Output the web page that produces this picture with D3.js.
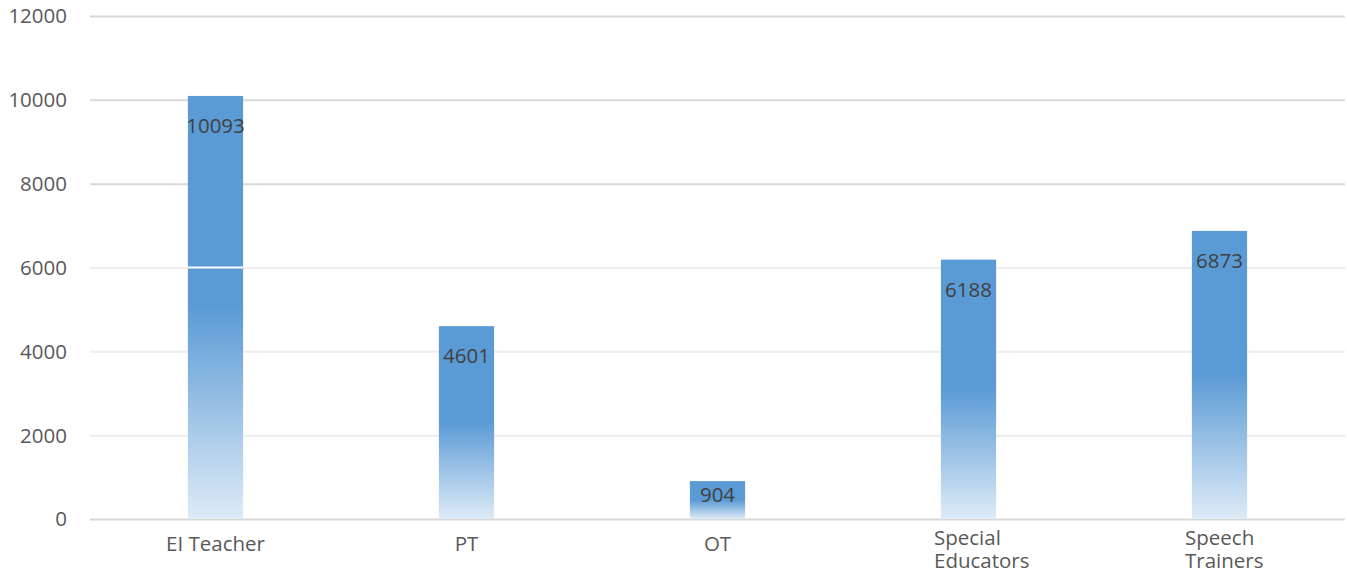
<!DOCTYPE html>
<html>
<head>
<meta charset="utf-8">
<script src="https://cdn.jsdelivr.net/npm/d3@7"></script>
<style>
  html, body { margin: 0; padding: 0; background: #ffffff; }
  svg { display: block; }
  text { font-family: "Open Sans", "Noto Sans", sans-serif; }
</style>
</head>
<body>
<svg id="chart" width="1347" height="577"></svg>
<script>
const categories = [["EI Teacher"], ["PT"], ["OT"], ["Special", "Educators"], ["Speech", "Trainers"]];
const values = [10093, 4601, 904, 6188, 6873];
const yTicks = [0, 2000, 4000, 6000, 8000, 10000, 12000];

const W = 1347, H = 577;
const margin = { left: 90, right: 2, top: 16, bottom: 58 };
const FS = "20.5px";
const svg = d3.select("#chart");

const keys = categories.map(c => c.join(" "));
const x = d3.scaleBand().domain(keys).range([margin.left, W - margin.right])
  .paddingInner(0.78).paddingOuter(0.39);
const y = d3.scaleLinear().domain([0, 12000]).range([H - margin.bottom, margin.top]);

const defs = svg.append("defs");
const grad = defs.append("linearGradient").attr("id", "barGrad")
  .attr("x1", 0).attr("y1", 0).attr("x2", 0).attr("y2", 1);
grad.append("stop").attr("offset", "0%").attr("stop-color", "#5b9bd5");
grad.append("stop").attr("offset", "50%").attr("stop-color", "#5b9bd5");
grad.append("stop").attr("offset", "75%").attr("stop-color", "#9dc3e6");
grad.append("stop").attr("offset", "100%").attr("stop-color", "#deebf7");

// gridlines
const gridG = svg.append("g").attr("transform", `translate(${margin.left},0)`)
  .call(d3.axisLeft(y).tickValues(yTicks).tickSize(-(W - margin.left - margin.right)).tickFormat(""));
gridG.select(".domain").remove();
gridG.selectAll(".tick line")
  .attr("stroke", d => (d === 0 || d >= 8000) ? "#d9d9d9" : "#ededed")
  .attr("stroke-width", 2);

// y labels
const yLab = svg.append("g").attr("transform", `translate(67,0)`)
  .call(d3.axisLeft(y).tickValues(yTicks).tickSize(0).tickPadding(0).tickFormat(d3.format("d")));
yLab.select(".domain").remove();
yLab.selectAll("text").attr("fill", "#595959").attr("font-size", FS)
  .attr("font-family", "'Open Sans', sans-serif").attr("dy", "0.34em");

// bars
svg.append("g").selectAll("rect").data(values).join("rect")
  .attr("x", (d, i) => x(keys[i]))
  .attr("y", d => y(d))
  .attr("width", x.bandwidth())
  .attr("height", d => y(0) - y(d))
  .attr("fill", "url(#barGrad)");

// white line over the first bar at 6000 (as in reference)
svg.append("line")
  .attr("x1", x(keys[0])).attr("x2", x(keys[0]) + x.bandwidth())
  .attr("y1", y(6000)).attr("y2", y(6000))
  .attr("stroke", "#ffffff").attr("stroke-width", 2);

// value labels
svg.append("g").selectAll("text").data(values).join("text")
  .attr("x", (d, i) => x(keys[i]) + x.bandwidth() / 2)
  .attr("y", d => { const h = y(0) - y(d); return y(d) + Math.min(30, h / 2 - 5); })
  .attr("dy", "0.35em")
  .attr("text-anchor", "middle")
  .attr("font-size", FS)
  .attr("fill", "#404040")
  .text(d => d);

// category labels (wrapped labels: lines left-aligned in a box centred on the bar)
const catG = svg.append("g");
const wrapBox = 69;
categories.forEach((lines, i) => {
  const cx = x(keys[i]) + x.bandwidth() / 2;
  if (lines.length === 1) {
    catG.append("text").attr("x", cx).attr("y", 551)
      .attr("text-anchor", "middle").attr("font-size", FS).attr("fill", "#595959")
      .text(lines[0]);
  } else {
    lines.forEach((line, j) => catG.append("text")
      .attr("x", cx - wrapBox / 2)
      .attr("y", 545 + j * 23).attr("font-size", FS).attr("fill", "#595959")
      .attr("text-anchor", "start").text(line));
  }
});
</script>
</body>
</html>
